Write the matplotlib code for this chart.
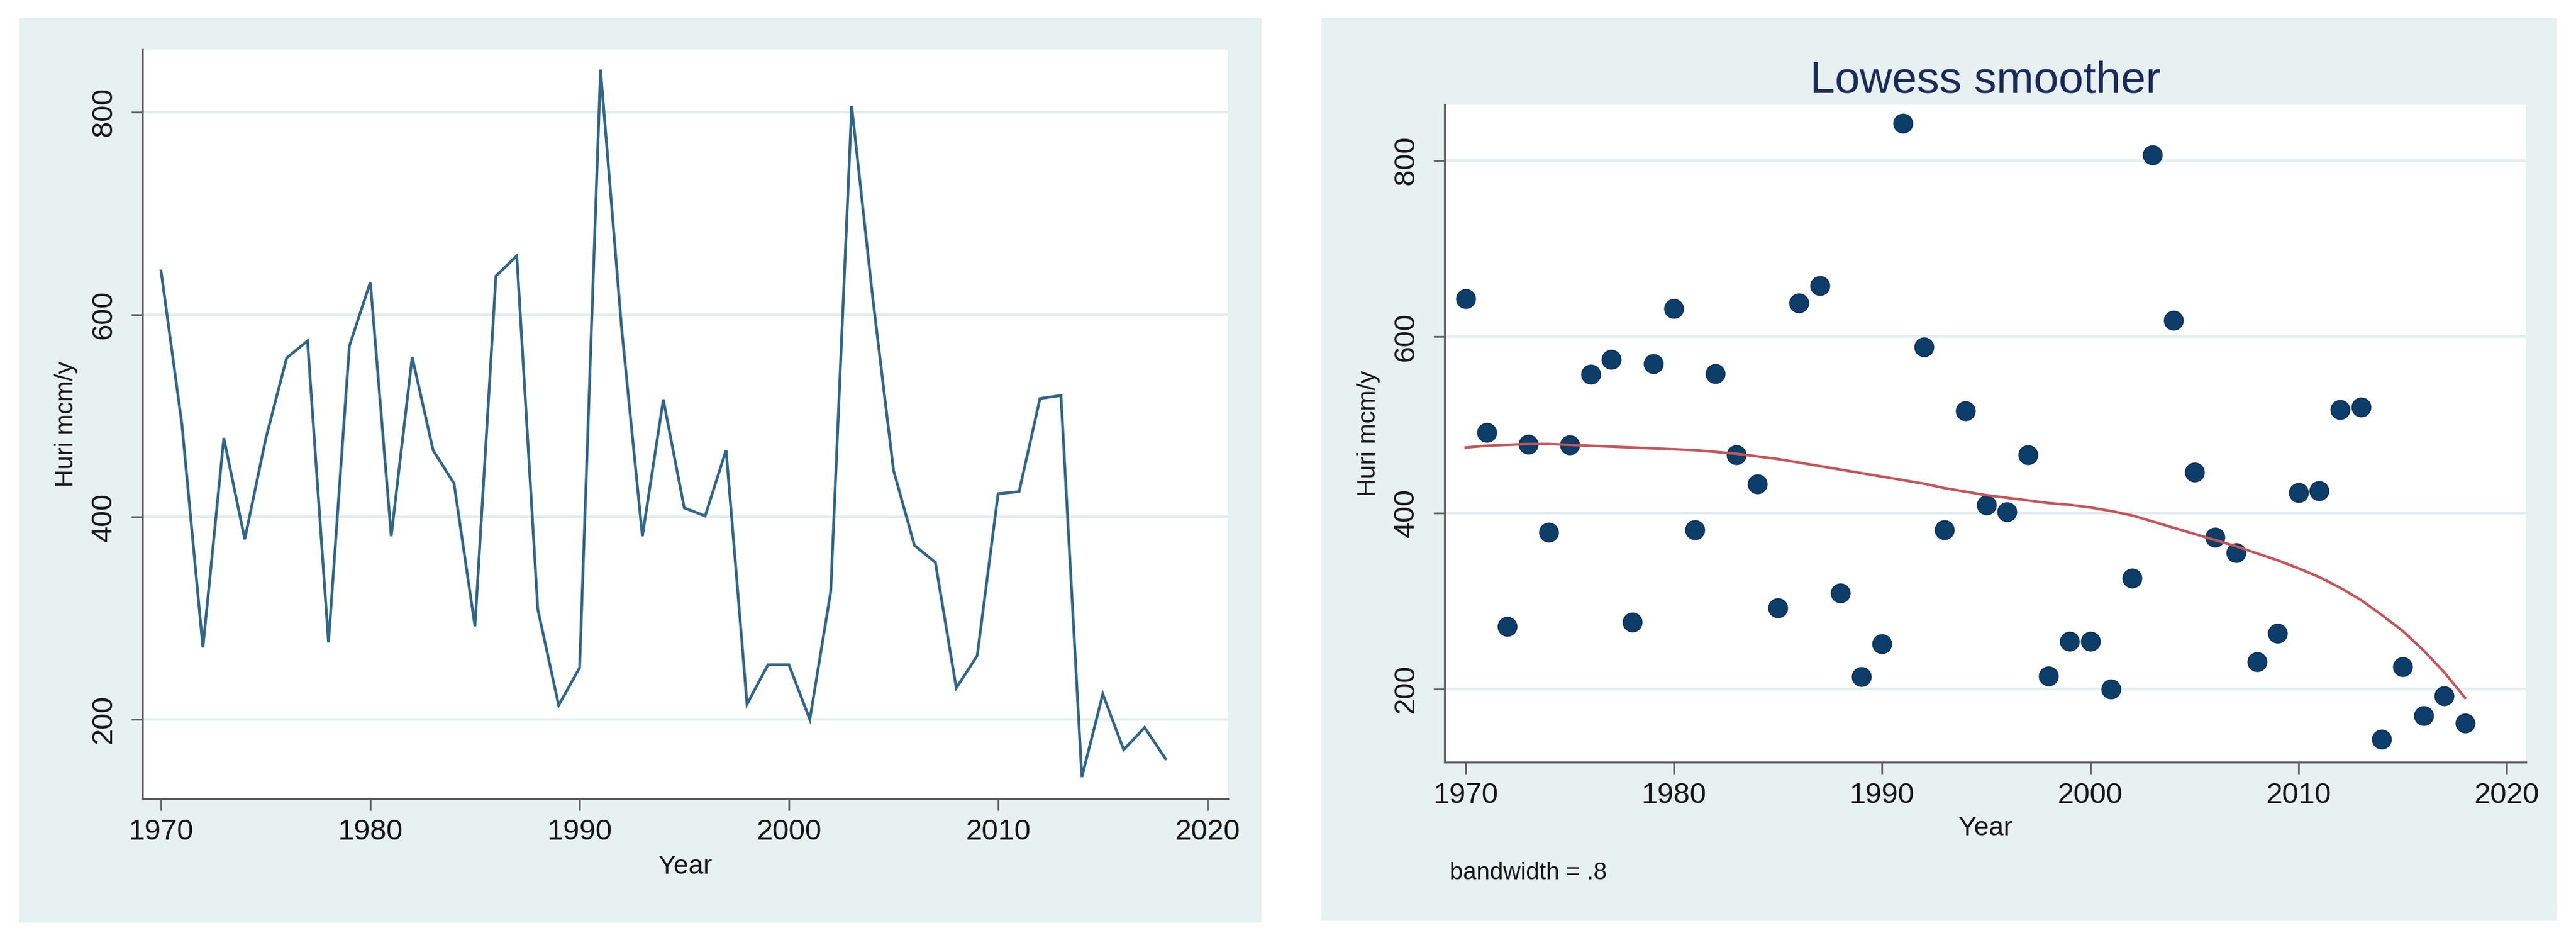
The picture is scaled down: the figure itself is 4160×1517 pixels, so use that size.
import matplotlib
matplotlib.use("Agg")
import matplotlib.pyplot as plt
from matplotlib.patches import Rectangle

plt.rcParams['font.family'] = ['Liberation Sans', 'DejaVu Sans']

years = list(range(1970, 2019))
huri = [643, 491, 271, 478, 378, 477, 557, 574, 276, 569,
        632, 381, 558, 466, 433, 292, 638, 658, 309, 214,
        251, 842, 588, 381, 516, 409, 401, 466, 215, 254,
        254, 200, 326, 806, 618, 446, 372, 355, 231, 263,
        423, 425, 517, 520, 143, 225, 170, 192, 161]
lowess_fit = [474, 476, 477, 478, 478, 477, 476, 475, 474, 473,
              472, 471, 469, 467, 464, 461, 457, 453, 449, 445,
              441, 437, 433, 428, 424, 420, 417, 414, 411, 409,
              406, 402, 397, 390, 383, 376, 369, 362, 354, 346,
              337, 327, 315, 301, 284, 266, 244, 219, 190]
xticks = [1970, 1980, 1990, 2000, 2010, 2020]
yticks = [200, 400, 600, 800]
ylabel = "Huri mcm/y"
xlabel = "Year"
title_right = "Lowess smoother"
note_right = "bandwidth = .8"

W, H = 4160, 1517
DPI = 100
fig = plt.figure(figsize=(W / DPI, H / DPI), dpi=DPI, facecolor='white')

BG = '#e7f1f2'
GRID = '#e2eef0'
SPINE = '#5e5e5e'
TXT = '#151515'

def fx(px):
    return px / W

def fy(py):
    return 1 - py / H

# panel backgrounds
fig.patches.append(Rectangle((fx(31), fy(1489)), fx(2037) - fx(31), fy(29) - fy(1489),
                             transform=fig.transFigure, facecolor=BG, edgecolor='none', zorder=-10))
fig.patches.append(Rectangle((fx(2134), fy(1486)), fx(4129) - fx(2134), fy(29) - fy(1486),
                             transform=fig.transFigure, facecolor=BG, edgecolor='none', zorder=-10))

def make_ax(l, t, r, b):
    ax = fig.add_axes([fx(l), fy(b), fx(r) - fx(l), fy(t) - fy(b)])
    ax.set_facecolor('white')
    for s in ['top', 'right']:
        ax.spines[s].set_visible(False)
    for s in ['left', 'bottom']:
        ax.spines[s].set_color(SPINE)
        ax.spines[s].set_linewidth(2.4)
    ax.set_xticks(xticks)
    ax.set_yticks(yticks)
    ax.set_yticklabels([str(v) for v in yticks], rotation=90, va='center')
    ax.tick_params(axis='x', length=14, width=2.0, color=SPINE, pad=9, labelsize=34, labelcolor=TXT)
    ax.tick_params(axis='y', length=13, width=2.0, color=SPINE, pad=16, labelsize=34, labelcolor=TXT)
    ax.grid(axis='y', color=GRID, linewidth=3)
    ax.set_axisbelow(True)
    return ax

# left: line plot
ax1 = make_ax(230, 80, 1983, 1289)
ax1.plot(years, huri, color='#2f6689', linewidth=3.2, solid_joinstyle='miter')
ax1.set_xlim(1969.11, 2020.98)
ax1.set_ylim(121.6, 861.8)
ax1.set_ylabel(ylabel, fontsize=29, labelpad=14, color=TXT)
ax1.set_xlabel(xlabel, fontsize=31, labelpad=10, color=TXT)

# right: scatter + lowess
ax2 = make_ax(2333, 169, 4079, 1230)
ax2.scatter(years, huri, s=480, color='#0d3d69', edgecolors='#0a3158', linewidths=1.2, zorder=3)
ax2.plot(years, lowess_fit, color='#c4555a', linewidth=3.0, zorder=4)
ax2.set_xlim(1968.99, 2020.92)
ax2.set_ylim(117, 863)
ax2.set_ylabel(ylabel, fontsize=29, labelpad=14, color=TXT)
ax2.set_xlabel(xlabel, fontsize=31, labelpad=8, color=TXT)
ax2.set_title(title_right, fontsize=52, color='#1b2a5c', pad=14)
fig.text(fx(2341), fy(1419), note_right, fontsize=28, color=TXT, ha='left', va='baseline')

fig.savefig('out.png', dpi=DPI, facecolor='white')
